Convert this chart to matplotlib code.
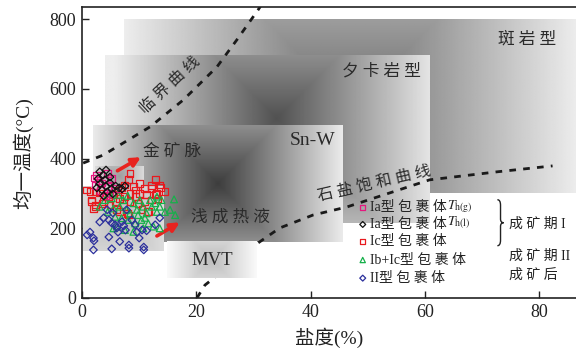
import numpy as np
import matplotlib
matplotlib.use('Agg')
from matplotlib import pyplot as plt
from matplotlib.path import Path
from matplotlib.patches import PathPatch

plt.rcParams['font.family'] = ['Liberation Serif', 'Noto Sans CJK SC']
plt.rcParams['mathtext.fontset'] = 'stix'

# fluid inclusion data: salinity (%) / homogenization temperature (C)
ia_g_x = [2.6, 2.9, 2.3, 3.2, 4.4, 5.2, 4.9, 4.1, 5.8, 3.5, 2.1, 4.5]
ia_g_y = [352, 338, 323, 309, 357, 342, 299, 295, 314, 330, 344, 321]

ia_l_x = [3.1, 3.7, 2.8, 4.0, 3.1, 4.2, 4.9, 3.5, 4.4, 5.2, 5.4, 2.6, 3.8, 5.9, 6.5, 7.0, 7.5, 4.9, 4.2]
ia_l_y = [362, 353, 342, 339, 327, 321, 330, 310, 304, 313, 299, 316, 293, 321, 316, 313, 321, 347, 367]

ic_x = [8.4, 8.1, 7.5, 9.0, 10.1, 11.0, 12.8, 13.6, 14.5, 13.1, 12.2, 11.3, 10.1, 9.3, 8.4,
        7.5, 6.6, 5.5, 4.6, 0.8, 1.7, 2.3, 3.7, 3.1, 8.4, 9.8, 11.0, 12.2, 13.3, 11.6,
        8.1, 7.2, 12.2, 13.7, 2.3, 1.7, 3.5, 2.0, 6.3, 7.0, 9.3, 10.5, 12.8, 4.9, 5.9,
        2.3, 6.1, 7.9, 11.4, 1.4, 6.6]
ic_y = [358, 339, 324, 319, 329, 315, 339, 324, 305, 300, 315, 296, 300, 291, 300,
        291, 286, 296, 291, 310, 281, 262, 276, 301, 276, 272, 276, 281, 286, 248,
        238, 262, 323, 316, 304, 276, 271, 256, 310, 316, 310, 253, 296, 267, 276,
        267, 253, 243, 248, 305, 248]

ibc_x = [5.2, 5.5, 6.6, 7.2, 7.8, 8.4, 9.0, 9.6, 10.1, 10.7, 11.3, 11.9, 12.2, 12.8, 13.1,
         13.6, 13.9, 5.8, 6.9, 8.1, 9.3, 10.4, 11.6, 6.1, 5.5, 7.5, 9.0, 10.7, 12.5, 13.6,
         16.1, 15.4, 16.3, 3.1, 4.0, 4.9, 6.3, 8.0, 9.8, 11.0, 13.1, 14.5, 4.5]
ibc_y = [286, 257, 262, 281, 253, 243, 272, 253, 281, 262, 243, 281, 262, 272, 291,
         262, 281, 233, 229, 224, 214, 224, 214, 205, 200, 195, 190, 200, 205, 200,
         283, 253, 238, 262, 281, 300, 296, 293, 238, 230, 247, 247, 247]

ii_x = [0.9, 2.0, 2.1, 2.0, 4.4, 4.7, 4.7, 5.2, 5.2, 5.8, 6.1, 6.3, 6.6, 7.0, 7.3, 7.6,
        7.8, 8.2, 8.2, 8.7, 9.3, 9.6, 10.0, 10.5, 10.8, 10.8, 11.3, 12.8, 13.6, 3.1,
        3.8, 1.4, 5.4]
ii_y = [181, 172, 164, 138, 253, 224, 175, 141, 215, 210, 201, 189, 162, 219, 207, 195,
        253, 143, 152, 224, 210, 189, 172, 195, 138, 146, 193, 210, 230, 218,
        230, 189, 244]

# critical curve and halite saturation curve
crit_x = [0.2, 3.7, 11.9, 17.7, 23.6, 27.1, 30.9, 32.5]
crit_y = [387, 410, 491, 568, 663, 741, 829, 870]
halite_x = [20.1, 21.5, 30.8, 34.6, 40.4, 46.3, 60.8, 72.6, 82.3]
halite_y = [0, 37, 158, 201, 238, 261, 339, 362, 379]

# deposit type fields: x0, x1, y0, y1
porphyry = [7.3, 86.6, 300, 798]
skarn = [4.0, 60.7, 215, 695]
snw = [1.9, 45.5, 162, 497]
mvt = [14.9, 30.6, 57, 162]
incl_low = [0.1, 14.1, 136, 321]
incl_high = [2.3, 10.7, 321, 377]

XMAX, YMAX = 86.4, 834
INK = '#222222'

fig = plt.figure(figsize=(5.76, 3.53), dpi=100)
ax = fig.add_axes([82 / 576, 55 / 353, 1 - 82 / 576, (298 - 7.3) / 353])
ax.set_xlim(0, XMAX)
ax.set_ylim(0, YMAX)

bb = ax.get_window_extent()
kx = bb.width / XMAX
ky = bb.height / YMAX


def fountain(box, dark, light, z, center=None):
    # square fountain fill: darkest at the centre, lighter towards the edges
    x0, x1, y0, y1 = box
    if center is None:
        center = ((x0 + x1) / 2, (y0 + y1) / 2)
    cx, cy = center
    xs = np.linspace(x0, x1, 400)
    ys = np.linspace(y0, y1, 300)
    X, Y = np.meshgrid(xs, ys)
    dx = np.abs(X - cx) * kx
    dy = np.abs(Y - cy) * ky
    r = max((x1 - x0) * kx, (y1 - y0) * ky) / 2
    t = np.clip(np.maximum(dx, dy) / r, 0, 1)
    img = dark + (light - dark) * t
    ax.imshow(img, cmap='gray', vmin=0, vmax=1, extent=(x0, x1, y0, y1),
              origin='lower', aspect='auto', zorder=z, interpolation='bilinear')


def brace(x, y0, y1, w, z):
    # thin right-hand curly brace from y0 (bottom) to y1 (top)
    ym = (y0 + y1) / 2
    h = y1 - y0
    verts = [(x - w / 2, y1), (x, y1), (x, y1 - h * 0.12),
             (x, ym + h * 0.08),
             (x, ym), (x + w / 2, ym),
             (x, ym), (x, ym - h * 0.08),
             (x, y0 + h * 0.12),
             (x, y0), (x - w / 2, y0)]
    codes = [Path.MOVETO, Path.CURVE3, Path.CURVE3, Path.LINETO,
             Path.CURVE3, Path.CURVE3, Path.CURVE3, Path.CURVE3,
             Path.LINETO, Path.CURVE3, Path.CURVE3]
    ax.add_patch(PathPatch(Path(verts, codes), fc='none', ec=INK, lw=1.0, zorder=z))


fountain(porphyry, 0.42, 0.93, 1)
fountain(skarn, 0.32, 0.93, 2, center=(34.0, 515))
fountain(snw, 0.24, 0.92, 3)

dash = (0, (2.4, 2.6))
ax.plot(crit_x, crit_y, color='#1a1a1a', lw=2.0, ls=dash, zorder=4)
ax.plot(halite_x, halite_y, color='#1a1a1a', lw=2.0, ls=dash, zorder=4)

fountain(mvt, 0.74, 0.98, 5)
fountain(incl_low, 0.74, 0.86, 5)
fountain(incl_high, 0.62, 0.86, 5)

ax.set_xlim(0, XMAX)
ax.set_ylim(0, YMAX)

lab = dict(color='#2a2a2a', ha='center', va='center', zorder=6)
ax.text(77.8, 741, '斑 岩 型', fontsize=12, **lab)
ax.text(52.4, 649, '夕 卡 岩 型', fontsize=12, **lab)
ax.text(40.4, 453, 'Sn-W', fontsize=14, **lab)
ax.text(15.8, 419, '金 矿 脉', fontsize=12, **lab)
ax.text(25.9, 230, '浅 成 热 液', fontsize=12, **lab)
ax.text(22.7, 109, 'MVT', fontsize=13.5, **lab)
ax.text(15.4, 610, '临 界 曲 线', fontsize=11.5, rotation=43, **lab)
ax.text(51.2, 326, '石 盐 饱 和 曲 线', fontsize=11.5, rotation=13, **lab)

arrow = dict(arrowstyle='-|>', color='#e8231f', lw=2.6, mutation_scale=13,
             shrinkA=0, shrinkB=0)
ax.annotate('', xy=(10.3, 404), xytext=(6.2, 365), arrowprops=arrow, zorder=7)
ax.annotate('', xy=(17.1, 217), xytext=(13.1, 178), arrowprops=arrow, zorder=7)

series = [
    (ia_g_x, ia_g_y, 's', '#e5177f', 'Ia型 包 裹 体', r'$T_{\rm h(g)}$'),
    (ia_l_x, ia_l_y, 'D', '#111111', 'Ia型 包 裹 体', r'$T_{\rm h(l)}$'),
    (ic_x, ic_y, 's', '#e8191e', 'Ic型 包 裹 体', None),
    (ibc_x, ibc_y, '^', '#16b04a', 'Ib+Ic型 包 裹 体', None),
    (ii_x, ii_y, 'D', '#2b2f9c', 'II型 包 裹 体', None),
]
order = [2, 3, 4, 0, 1]
sizes = {'s': 24, 'D': 15, '^': 24}
for i in order:
    xs, ys, m, c, _, _ = series[i]
    ax.scatter(xs, ys, marker=m, s=sizes[m], facecolors='none', edgecolors=c,
               linewidths=0.9, zorder=8)

# legend drawn by hand
leg_y = [259, 211, 162, 109, 57]
fig.canvas.draw()
renderer = fig.canvas.get_renderer()
for (xs, ys, m, c, name, sub), yy in zip(series, leg_y):
    ax.scatter([49.1], [yy], marker=m, s=sizes[m] * 0.6, facecolors='none',
               edgecolors=c, linewidths=0.9, zorder=8)
    t = ax.text(50.4, yy, name, fontsize=10, color=INK, va='center', zorder=8)
    if sub:
        ext = t.get_window_extent(renderer=renderer)
        xe = ax.transData.inverted().transform((ext.x1, ext.y0))[0]
        ax.text(xe + 0.1, yy + 4, sub, fontsize=10, color=INK, va='center', zorder=8)

brace(73.2, 150, 282, 1.1, 8)
ax.text(74.6, 213, '成 矿 期 I', fontsize=10, color=INK, va='center', zorder=8)
ax.text(74.6, 119, '成 矿 期 II', fontsize=10, color=INK, va='center', zorder=8)
ax.text(74.6, 66, '成 矿 后', fontsize=10, color=INK, va='center', zorder=8)

ax.set_xticks([0, 20, 40, 60, 80])
ax.set_yticks([0, 200, 400, 600, 800])
ax.tick_params(direction='in', length=5, width=1.0, labelsize=13, pad=4,
               color=INK, labelcolor=INK)
for s in ['left', 'bottom', 'top']:
    ax.spines[s].set_linewidth(1.2)
    ax.spines[s].set_color(INK)
    ax.spines[s].set_zorder(9)
ax.spines['right'].set_visible(False)

ax.set_xlabel('盐度(%)', fontsize=14, color=INK, labelpad=5)
ax.set_ylabel('均一温度(°C)', fontsize=14, color=INK, labelpad=12)

fig.savefig('out.png', dpi=100)
